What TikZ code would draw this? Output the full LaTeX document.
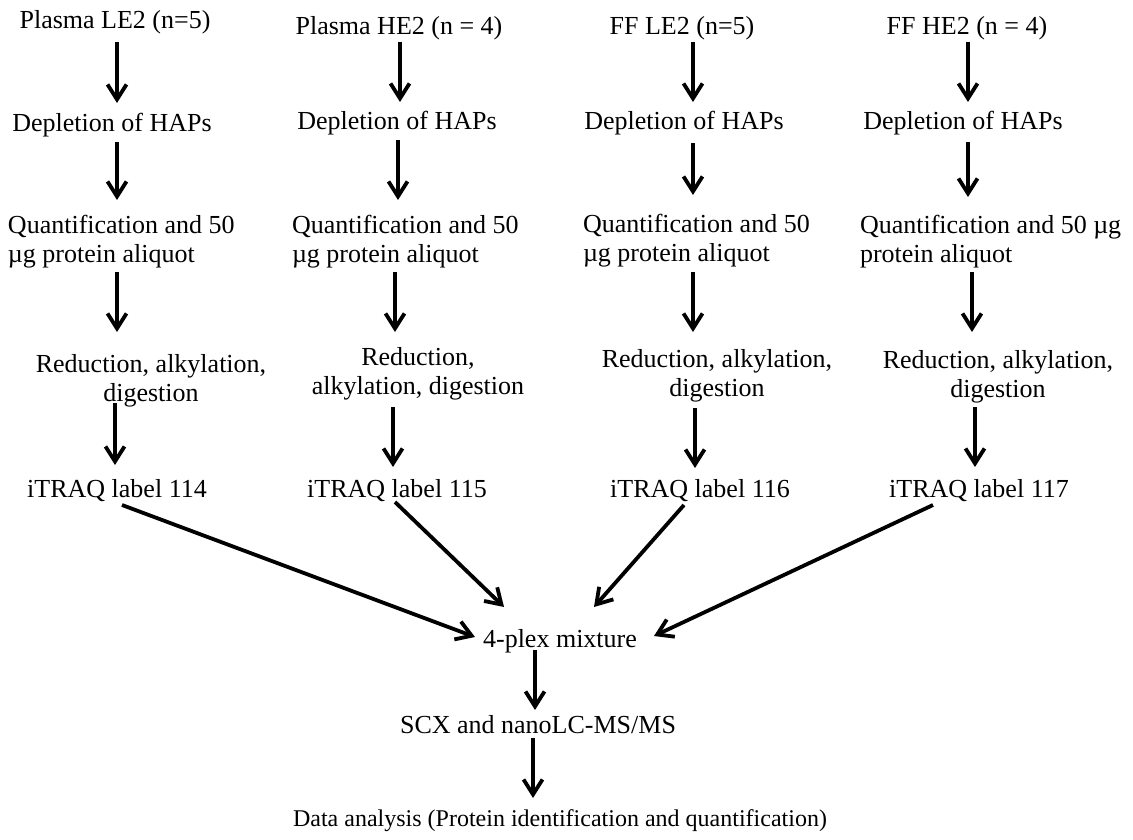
\documentclass[tikz,border=0pt]{standalone}
\usepackage{fontspec}
\setmainfont{Liberation Serif}
\usetikzlibrary{arrows.meta,calc}
\newcommand\tstr{\rule{0pt}{18pt}}
\newcommand\bstr{\rule[-6pt]{0pt}{6pt}}
\newcommand\flow[5]{\draw[arr,shorten <=#4pt,shorten >=#5pt] (#1.south -| #3) -- (#2.north -| #3);}
\begin{document}
\begin{tikzpicture}[x=1pt,y=-1pt,
  lbl/.style={inner sep=0pt,outer sep=0pt,font=\fontsize{26}{29.5}\selectfont},
  one/.style={lbl,text height=18pt,text depth=6pt,anchor=base},
  two/.style={lbl,align=center,anchor=north},
  twol/.style={lbl,align=left,anchor=north west},
  arr/.style={line width=3.8pt,-{Straight Barb[length=15pt,width=19pt]}}]
\useasboundingbox[fill=white] (0,0) rectangle (1133,840);
% column 1
\node[one] (P1) at (115,29) {Plasma LE2 (n=5)};
\node[one] (D1) at (112,132) {Depletion of HAPs};
\node[twol] (Q1) at (8,215) {\tstr Quantification and 50\\µg protein aliquot\bstr};
\node[two] (R1) at (151,354) {\tstr Reduction, alkylation,\\digestion\bstr};
\node[one] (I1) at (117,497) {iTRAQ label 114};
% column 2
\node[one] (P2) at (399,35) {Plasma HE2 (n = 4)};
\node[one] (D2) at (397,130) {Depletion of HAPs};
\node[twol] (Q2) at (292,215) {\tstr Quantification and 50\\µg protein aliquot\bstr};
\node[two] (R2) at (418,347) {\tstr Reduction,\\alkylation, digestion\bstr};
\node[one] (I2) at (397,497) {iTRAQ label 115};
% column 3
\node[one] (P3) at (682,35) {FF LE2 (n=5)};
\node[one] (D3) at (684,130) {Depletion of HAPs};
\node[twol] (Q3) at (583,214) {\tstr Quantification and 50\\µg protein aliquot\bstr};
\node[two] (R3) at (717,349) {\tstr Reduction, alkylation,\\digestion\bstr};
\node[one] (I3) at (700,497) {iTRAQ label 116};
% column 4
\node[one] (P4) at (967,35) {FF HE2 (n = 4)};
\node[one] (D4) at (963,130) {Depletion of HAPs};
\node[twol] (Q4) at (860,215) {\tstr Quantification and 50 µg\\protein aliquot\bstr};
\node[two] (R4) at (998,350) {\tstr Reduction, alkylation,\\digestion\bstr};
\node[one] (I4) at (979,497) {iTRAQ label 117};
% bottom
\node[one] (M) at (560,647) {4-plex mixture};
\node[one] (S) at (538,733) {SCX and nanoLC-MS/MS};
\node[one,font=\fontsize{24}{28}\selectfont] (DA) at (560,826) {Data analysis (Protein identification and quantification)};
% arrow columns
\coordinate (k1) at (117,0);
\coordinate (k1b) at (115,0);
\coordinate (k2a) at (400,0);
\coordinate (k2b) at (398,0);
\coordinate (k2c) at (395,0);
\coordinate (k2d) at (393,0);
\coordinate (k3) at (693,0);
\coordinate (k3b) at (695,0);
\coordinate (k4) at (968,0);
\coordinate (k4b) at (972,0);
\coordinate (k4c) at (975,0);
\coordinate (k5) at (535,0);
\coordinate (k6) at (533,0);
% vertical flows
\flow{P1}{D1}{k1}{7}{11}
\flow{D1}{Q1}{k1}{4}{15}
\flow{Q1}{R1}{k1}{3.5}{22}
\flow{R1}{I1}{k1b}{-4.5}{14}
\flow{P2}{D2}{k2a}{1}{10}
\flow{D2}{Q2}{k2b}{4}{15}
\flow{Q2}{R2}{k2c}{3.5}{15}
\flow{R2}{I2}{k2d}{6.5}{12}
\flow{P3}{D3}{k3}{1}{10}
\flow{D3}{Q3}{k3}{7}{19}
\flow{Q3}{R3}{k3}{4.5}{17}
\flow{R3}{I3}{k3b}{5.5}{11}
\flow{P4}{D4}{k4}{1}{10}
\flow{D4}{Q4}{k4}{6}{18}
\flow{Q4}{R4}{k4b}{3.5}{18}
\flow{R4}{I4}{k4c}{3.5}{12}
\flow{M}{S}{k5}{-3}{5}
\flow{S}{DA}{k6}{-1}{10}
% converging arrows
\draw[arr] ($(I1.base)+(5,8)$) -- ($(M.base)+(-85,-10)$);
\draw[arr] ($(I2.base)+(-2,5)$) -- ($(M.base)+(-56,-40)$);
\draw[arr] ($(I3.base)+(-16,8)$) -- ($(M.base)+(34,-40)$);
\draw[arr] ($(I4.base)+(-46,8)$) -- ($(M.base)+(94,-11)$);
\end{tikzpicture}
\end{document}
